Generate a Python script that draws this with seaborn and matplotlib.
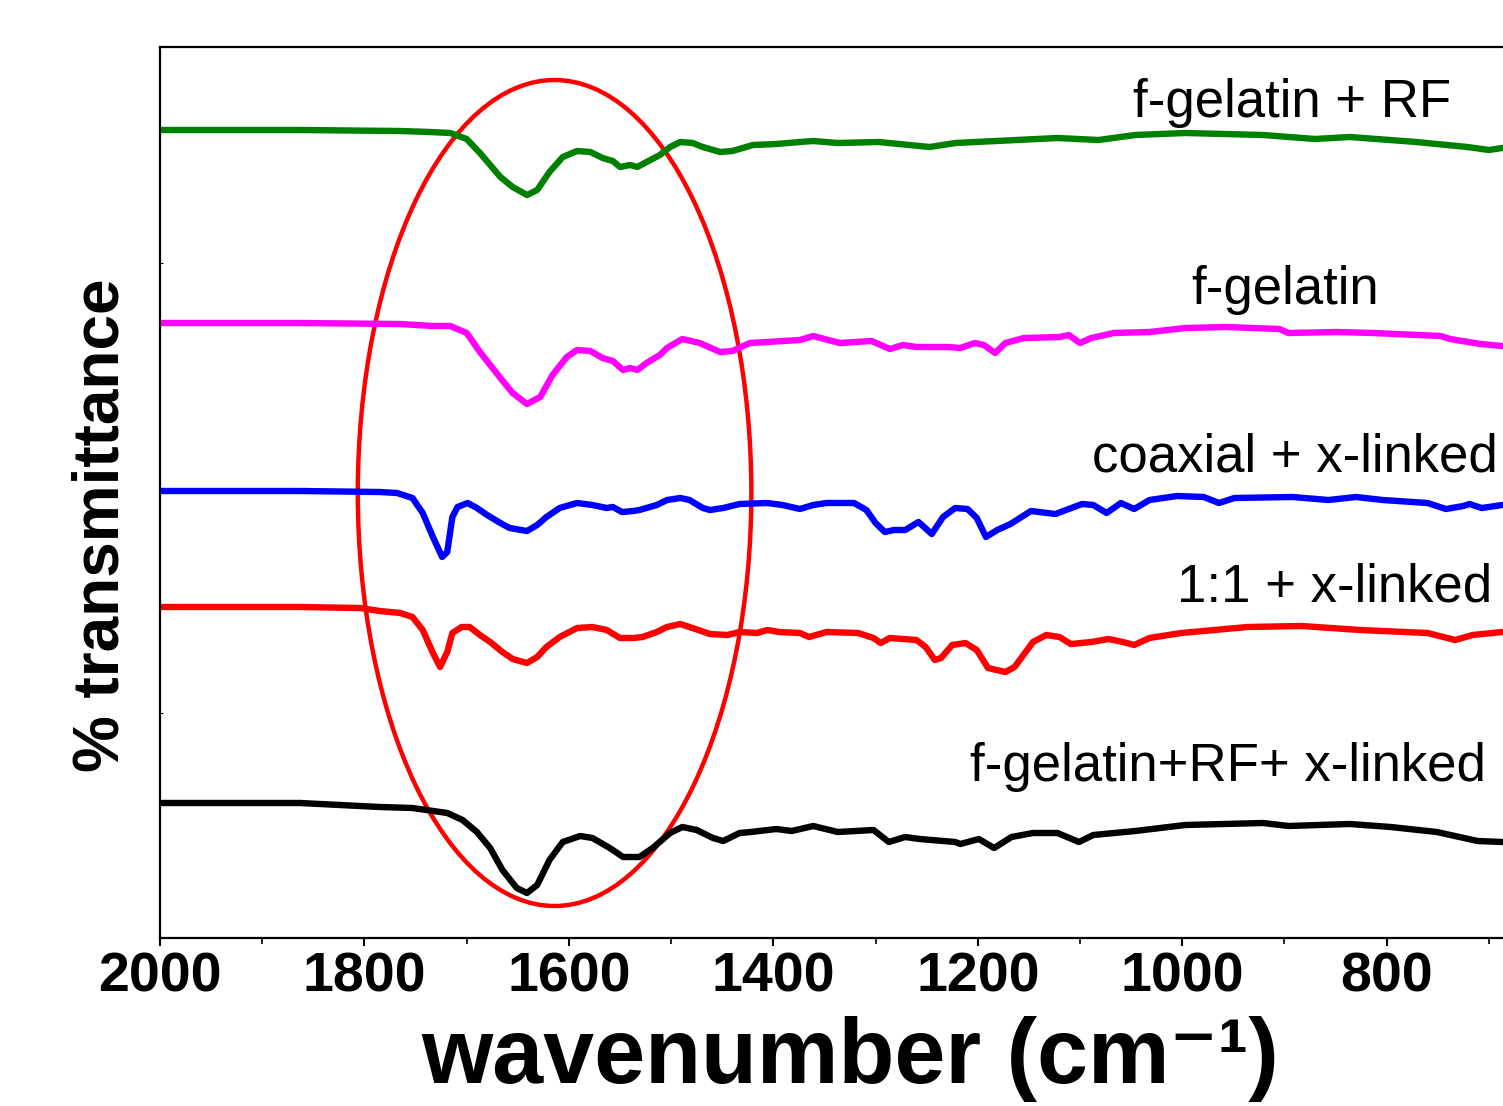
import numpy as np
import pandas as pd
import matplotlib
matplotlib.use("Agg")
import matplotlib.pyplot as plt
from matplotlib.patches import Ellipse
from matplotlib.ticker import MultipleLocator
import seaborn as sns

# wavenumber (cm-1) / transmittance (offset, a.u.)
green_wn = [2000, 1863, 1765, 1736, 1716, 1700, 1687, 1667, 1655, 1641, 1631, 1619, 1606, 1592,
            1579, 1567, 1557, 1550, 1540, 1533, 1524, 1511, 1501, 1491, 1479, 1469, 1452, 1440,
            1420, 1397, 1374, 1361, 1337, 1297, 1247, 1222, 1122, 1082, 1046, 997, 921, 870,
            836, 771, 721, 700, 687, 650]
green_t = [808, 808, 807, 806, 805, 799, 785, 761, 751, 743, 748, 766, 781, 787,
           786, 780, 777, 771, 773, 771, 776, 783, 791, 796, 795, 791, 786, 787,
           793, 794, 796, 797, 795, 796, 791, 795, 800, 798, 803, 805, 803, 799,
           801, 796, 791, 788, 790, 790]

magenta_wn = [2000, 1863, 1765, 1733, 1716, 1700, 1687, 1667, 1655, 1641, 1628, 1616, 1602, 1592,
              1579, 1567, 1557, 1547, 1540, 1533, 1524, 1511, 1504, 1489, 1472, 1452, 1440, 1423,
              1406, 1374, 1361, 1335, 1304, 1286, 1273, 1260, 1229, 1217, 1203, 1194, 1183, 1173,
              1155, 1120, 1111, 1100, 1089, 1067, 1032, 997, 957, 905, 896, 848, 813, 747, 738,
              708, 687, 650]
magenta_t = [615, 615, 614, 612, 612, 605, 586, 560, 545, 534, 541, 563, 581, 588,
             587, 580, 577, 568, 570, 568, 575, 583, 590, 599, 595, 586, 587, 595,
             596, 598, 602, 595, 597, 589, 593, 591, 591, 590, 595, 593, 585, 595,
             600, 601, 603, 595, 600, 605, 606, 610, 611, 609, 605, 606, 605, 602, 599,
             594, 592, 592]

blue_wn = [2000, 1863, 1785, 1768, 1753, 1743, 1733, 1724, 1719, 1714, 1709, 1699, 1690, 1680,
           1667, 1658, 1641, 1631, 1622, 1609, 1592, 1577, 1563, 1557, 1548, 1537, 1531, 1514,
           1504, 1491, 1482, 1469, 1462, 1449, 1433, 1406, 1391, 1374, 1361, 1348, 1321, 1309,
           1300, 1291, 1282, 1271, 1258, 1245, 1234, 1222, 1210, 1201, 1192, 1181, 1168, 1148,
           1124, 1098, 1087, 1074, 1060, 1047, 1032, 1005, 979, 964, 949, 892, 857, 830, 804,
           760, 742, 725, 719, 707, 687, 650]
blue_t = [447, 447, 446, 445, 440, 425, 401, 381, 386, 421, 431, 435, 430, 423,
          415, 410, 407, 413, 421, 430, 435, 433, 430, 431, 426, 427, 428, 433,
          438, 440, 438, 430, 428, 430, 434, 435, 433, 429, 433, 435, 435, 428,
          415, 406, 408, 408, 416, 404, 421, 430, 429, 420, 401, 408, 414, 427,
          424, 434, 433, 425, 435, 429, 438, 442, 441, 435, 440, 441, 438, 441, 438,
          435, 429, 432, 434, 430, 433, 433]

red_wn = [2000, 1863, 1804, 1785, 1765, 1753, 1743, 1733, 1726, 1719, 1714, 1705, 1697, 1687,
          1677, 1665, 1655, 1641, 1631, 1622, 1609, 1592, 1577, 1563, 1550, 1537, 1528, 1514,
          1504, 1491, 1479, 1462, 1445, 1433, 1416, 1406, 1394, 1374, 1365, 1348, 1317, 1302,
          1295, 1286, 1260, 1251, 1242, 1236, 1225, 1212, 1201, 1190, 1173, 1164, 1146, 1133,
          1120, 1109, 1089, 1072, 1058, 1047, 1032, 1001, 936, 883, 826, 760, 733, 716, 687, 650]
red_t = [331, 331, 330, 327, 325, 321, 308, 285, 271, 286, 305, 311, 311, 303,
         296, 286, 279, 275, 281, 291, 301, 310, 311, 308, 300, 300, 301, 306,
         311, 314, 310, 304, 303, 306, 305, 308, 306, 305, 301, 306, 305, 300,
         295, 300, 298, 291, 278, 280, 293, 295, 288, 270, 266, 271, 296, 303,
         301, 294, 296, 299, 296, 293, 300, 305, 311, 312, 308, 305, 298, 303, 306, 306]

black_wn = [2000, 1863, 1785, 1753, 1719, 1704, 1690, 1677, 1665, 1651, 1641, 1631, 1619, 1606,
            1589, 1577, 1560, 1547, 1531, 1518, 1501, 1489, 1475, 1459, 1449, 1433, 1422, 1397,
            1382, 1361, 1337, 1302, 1287, 1271, 1257, 1222, 1217, 1199, 1184, 1167, 1146, 1122,
            1101, 1087, 1046, 997, 921, 896, 836, 796, 751, 711, 687, 650]
black_t = [135, 135, 131, 130, 125, 118, 106, 90, 68, 50, 45, 53, 78, 96,
           102, 100, 90, 81, 81, 90, 105, 111, 108, 100, 97, 105, 106, 109,
           107, 112, 106, 108, 96, 101, 99, 96, 94, 99, 90, 101, 105, 105,
           96, 103, 107, 113, 115, 112, 114, 111, 106, 97, 96, 96]

names = ["f-gelatin + RF", "f-gelatin", "coaxial + x-linked", "1:1 + x-linked",
         "f-gelatin+RF+ x-linked"]
colors = ["#008000", "#ff00ff", "#0000ff", "#ff0000", "#000000"]
series = [(green_wn, green_t), (magenta_wn, magenta_t), (blue_wn, blue_t),
          (red_wn, red_t), (black_wn, black_t)]

sns.set_style("ticks")
plt.rcParams["font.family"] = ["Liberation Sans", "DejaVu Sans"]
plt.rcParams["text.color"] = "black"
plt.rcParams["axes.labelcolor"] = "black"
plt.rcParams["xtick.color"] = "black"
plt.rcParams["ytick.color"] = "black"

fig = plt.figure(figsize=(15.03, 11.06), dpi=100)
ax = fig.add_axes([160 / 1503, 168 / 1106, 1380 / 1503, 891 / 1106])

for name, col, (wn, t) in zip(names, colors, series):
    df = pd.DataFrame({"wavenumber": wn, "T": t})
    sns.lineplot(data=df, x="wavenumber", y="T", ax=ax, color=col, lw=4.6,
                 sort=False, estimator=None)
for line in ax.get_lines():
    line.set_solid_joinstyle("round")
    line.set_solid_capstyle("round")

ax.add_patch(Ellipse((1614, 445), 385, 826, fill=False, edgecolor="#ff0000", lw=3.2))

ax.set_xlim(2000, 650)
ax.set_ylim(0, 891)
ax.xaxis.set_major_locator(MultipleLocator(200))
ax.xaxis.set_minor_locator(MultipleLocator(100))
ax.yaxis.set_major_locator(MultipleLocator(225))
ax.tick_params(axis="x", which="major", direction="out", length=6, width=1.5,
               labelsize=40, pad=4)
ax.tick_params(axis="x", which="minor", direction="out", length=4, width=1.2)
ax.tick_params(axis="y", which="major", direction="in", length=2.5, width=0.8, labelleft=False)
for lab in ax.get_xticklabels():
    lab.set_fontweight("bold")

for side in ["left", "bottom", "top", "right"]:
    ax.spines[side].set_visible(True)
    ax.spines[side].set_linewidth(1.6)
    ax.spines[side].set_color("black")

ax.set_xlabel("wavenumber (cm\u207b\u00b9)", fontsize=66, fontweight="bold", labelpad=9)
ax.set_ylabel("% transmittance", fontsize=46, fontweight="bold")
ax.yaxis.set_label_coords(-0.021, 0.4635)

label_pos = [(1048, 821), (991, 634), (1088, 466), (1005, 336), (1208, 157)]
for name, (x, y) in zip(names, label_pos):
    ax.text(x, y, name, fontsize=38, ha="left", va="baseline", color="black")

fig.savefig("out.png", dpi=100)
